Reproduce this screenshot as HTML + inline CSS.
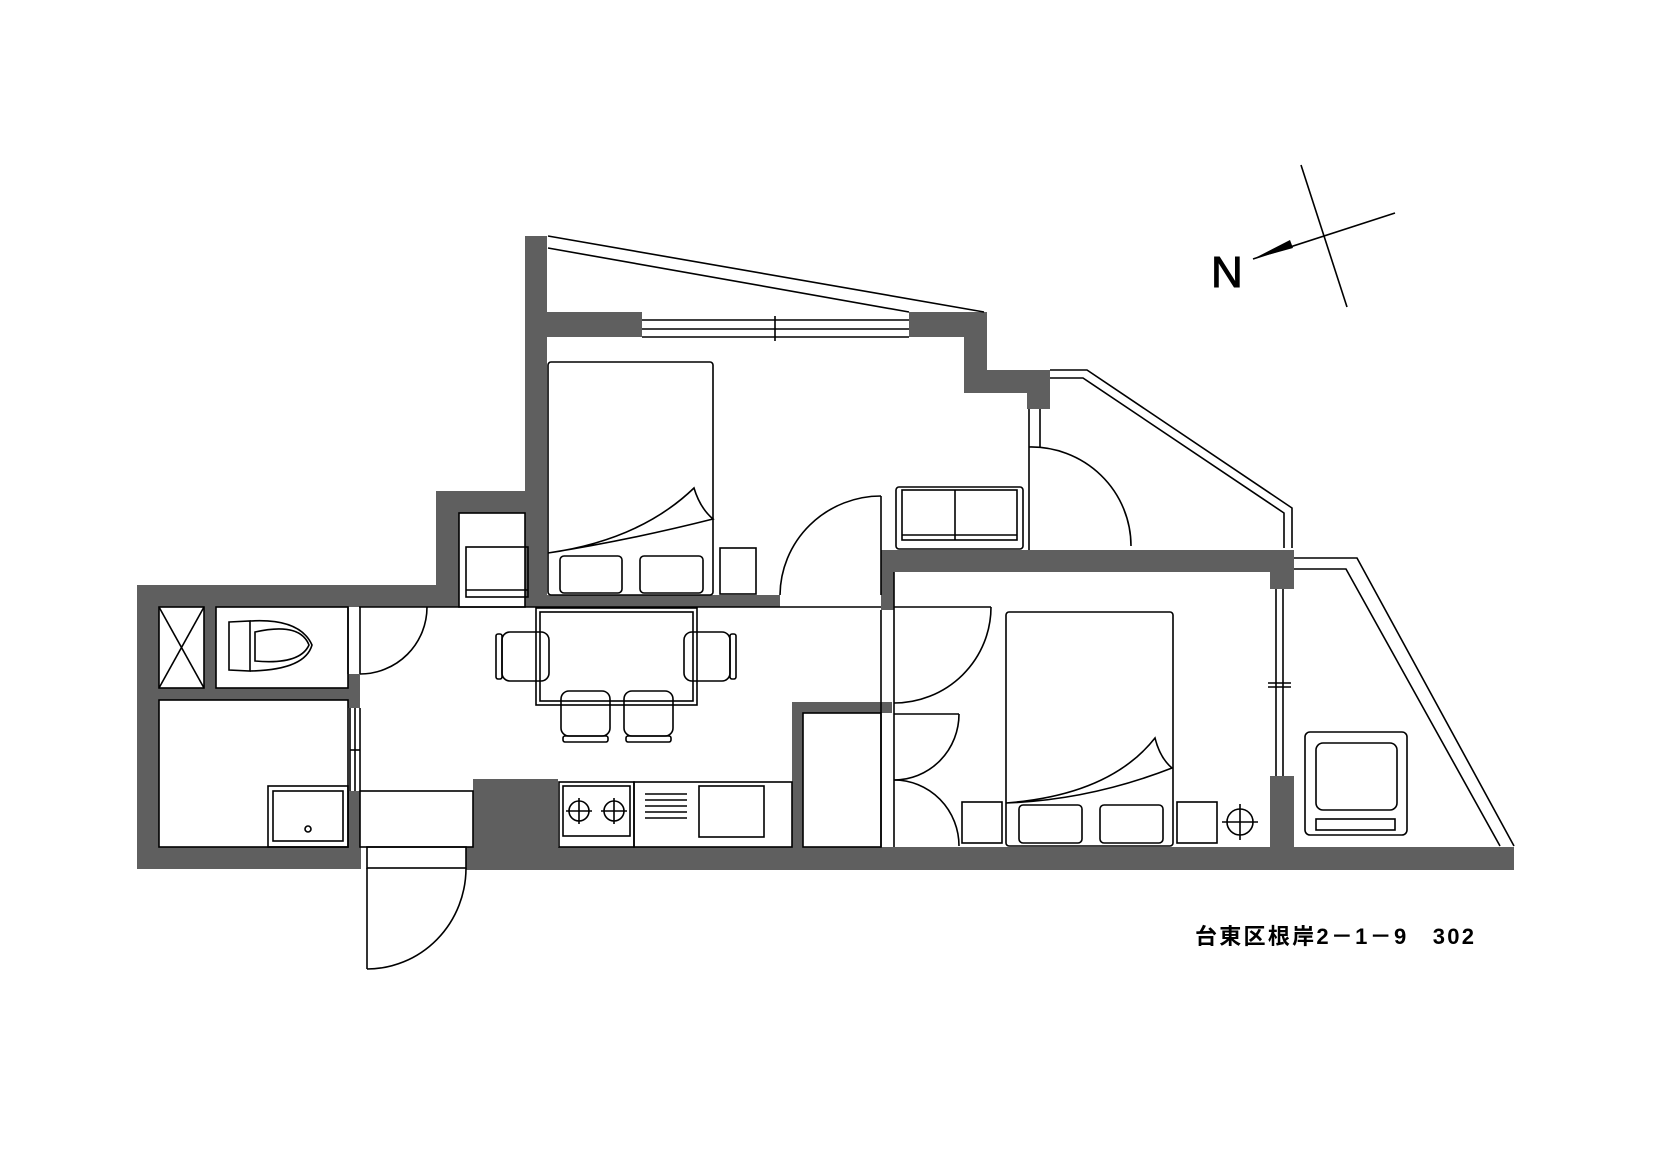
<!DOCTYPE html>
<html><head><meta charset="utf-8"><style>html,body{margin:0;padding:0;background:#fff}svg{display:block}</style></head>
<body>
<svg width="1654" height="1170" viewBox="0 0 1654 1170" xmlns="http://www.w3.org/2000/svg">
<g fill="#5f5f5f" stroke="none">
<rect x="137" y="585" width="22" height="284"/>
<rect x="137" y="847" width="224" height="22"/>
<rect x="466" y="847" width="1048" height="23"/>
<rect x="137" y="585" width="299" height="22"/>
<rect x="436" y="491" width="23" height="116"/>
<rect x="436" y="491" width="111" height="22"/>
<rect x="525" y="236" width="22" height="371"/>
<rect x="547" y="312" width="95" height="25"/>
<rect x="909" y="312" width="78" height="25"/>
<rect x="964" y="312" width="23" height="81"/>
<rect x="964" y="370" width="86" height="23"/>
<rect x="1027" y="370" width="23" height="39"/>
<rect x="547" y="595" width="233" height="12"/>
<rect x="204" y="607" width="12" height="82"/>
<rect x="159" y="688" width="201" height="12"/>
<rect x="348" y="674" width="12" height="34"/>
<rect x="348" y="791" width="12" height="56"/>
<rect x="473" y="779" width="85" height="68"/>
<rect x="884" y="550" width="410" height="22"/>
<rect x="881" y="550" width="13" height="60"/>
<rect x="792" y="702" width="11" height="145"/>
<rect x="792" y="702" width="100" height="11"/>
<rect x="1270" y="550" width="24" height="39"/>
<rect x="1270" y="776" width="24" height="71"/>
</g>
<g fill="none" stroke="#000" stroke-width="1.6">
<polyline points="548,236 984,312"/>
<polyline points="548,248 909,312"/>
<polyline points="1050,370 1087,370 1292,508 1292,548"/>
<polyline points="1050,378 1083,378 1284,513 1284,548"/>
<polyline points="1294,558 1357,558 1514,846"/>
<polyline points="1294,569 1346,569 1500,846"/>
<line x1="642" y1="320" x2="909" y2="320"/><line x1="642" y1="329" x2="909" y2="329"/><line x1="642" y1="337" x2="909" y2="337"/>
<line x1="775" y1="316" x2="775" y2="341"/>
<line x1="1029" y1="409" x2="1029" y2="550"/><line x1="1040" y1="409" x2="1040" y2="447"/>
<path d="M1029,447 A100,99 0 0 1 1131,546"/>
<rect x="459" y="513" width="66" height="94"/>
<rect x="466" y="547" width="62" height="50"/><line x1="466" y1="590" x2="528" y2="590"/>
<rect x="548" y="362" width="165" height="233" rx="3"/>
<rect x="560" y="556" width="62" height="37" rx="4"/><rect x="640" y="556" width="63" height="37" rx="4"/>
<rect x="720" y="548" width="36" height="46"/>
<path d="M548,553 Q640,540 694,488 Q700,508 713,519 Q630,540 548,553"/>
<line x1="881" y1="496" x2="881" y2="595"/>
<path d="M881,496 A101,100 0 0 0 780,595"/>
<line x1="359" y1="607" x2="881" y2="607"/>
<rect x="896" y="487" width="127" height="62" rx="3"/>
<rect x="902" y="490" width="115" height="50"/>
<line x1="955" y1="490" x2="955" y2="540"/><line x1="902" y1="535" x2="1017" y2="535"/>
<line x1="881" y1="610" x2="881" y2="847"/><line x1="894" y1="572" x2="894" y2="847"/>
<rect x="803" y="713" width="78" height="134"/>
<line x1="894" y1="607" x2="991" y2="607"/>
<path d="M991,607 A97,96 0 0 1 894,703"/>
<line x1="894" y1="714" x2="959" y2="714"/>
<path d="M959,714 A65,66 0 0 1 894,780"/>
<path d="M894,780 A65,66 0 0 1 959,846"/>
<rect x="1006" y="612" width="167" height="234" rx="3"/>
<rect x="1019" y="805" width="63" height="38" rx="4"/><rect x="1100" y="805" width="63" height="38" rx="4"/>
<rect x="962" y="802" width="40" height="41"/><rect x="1177" y="802" width="40" height="41"/>
<path d="M1006,803 Q1110,795 1155,738 Q1160,758 1172,768 Q1090,800 1006,803"/>
<circle cx="1240" cy="822" r="13"/><line x1="1222" y1="822" x2="1258" y2="822"/><line x1="1240" y1="804" x2="1240" y2="840"/>
<line x1="1276" y1="589" x2="1276" y2="776"/><line x1="1283" y1="589" x2="1283" y2="776"/>
<line x1="1268" y1="683" x2="1291" y2="683"/><line x1="1268" y1="687" x2="1291" y2="687"/>
<rect x="1305" y="732" width="102" height="103" rx="5"/>
<rect x="1316" y="743" width="81" height="67" rx="7"/>
<rect x="1316" y="819" width="79" height="11"/>
<rect x="159" y="607" width="45" height="81"/>
<line x1="159" y1="607" x2="204" y2="688"/><line x1="204" y1="607" x2="159" y2="688"/>
<rect x="216" y="607" width="132" height="81"/>
<path d="M229,622 L250,621 L250,671 L229,670 Z"/>
<path d="M250,621 Q300,618 312,645 Q305,670 250,671"/>
<path d="M255,632 Q300,622 309,645 Q300,665 255,661 Z"/>
<line x1="348" y1="607" x2="348" y2="674"/><line x1="360" y1="607" x2="360" y2="674"/>
<path d="M427,607 A67,67 0 0 1 360,674"/>
<rect x="159" y="700" width="189" height="147"/>
<line x1="350" y1="708" x2="350" y2="791"/><line x1="355" y1="708" x2="355" y2="791"/><line x1="360" y1="708" x2="360" y2="791"/>
<line x1="350" y1="750" x2="360" y2="750"/>
<rect x="268" y="786" width="80" height="61"/><rect x="273" y="791" width="70" height="50"/>
<circle cx="308" cy="829" r="3"/>
<rect x="360" y="791" width="113" height="56"/>
<rect x="367" y="847" width="99" height="21"/>
<line x1="367" y1="868" x2="367" y2="969"/>
<path d="M466,868 A99,101 0 0 1 367,969"/>
<rect x="536" y="608" width="161" height="97"/><rect x="540" y="612" width="153" height="89"/>
<rect x="502" y="632" width="47" height="49" rx="8"/><rect x="496" y="634" width="6" height="45" rx="2"/>
<rect x="684" y="632" width="46" height="49" rx="8"/><rect x="730" y="634" width="6" height="45" rx="2"/>
<rect x="561" y="691" width="49" height="45" rx="8"/><rect x="563" y="736" width="45" height="6" rx="2"/>
<rect x="624" y="691" width="49" height="45" rx="8"/><rect x="626" y="736" width="45" height="6" rx="2"/>
<rect x="559" y="782" width="75" height="65"/><rect x="563" y="786" width="67" height="50"/>
<circle cx="579" cy="811" r="10"/><line x1="566" y1="811" x2="592" y2="811"/><line x1="579" y1="798" x2="579" y2="824"/>
<circle cx="614" cy="811" r="10"/><line x1="601" y1="811" x2="627" y2="811"/><line x1="614" y1="798" x2="614" y2="824"/>
<rect x="634" y="782" width="158" height="65"/>
<line x1="645" y1="794" x2="687" y2="794"/><line x1="645" y1="800" x2="687" y2="800"/><line x1="645" y1="806" x2="687" y2="806"/><line x1="645" y1="812" x2="687" y2="812"/><line x1="645" y1="818" x2="687" y2="818"/>
<rect x="699" y="786" width="65" height="51"/>
<line x1="1301" y1="165" x2="1347" y2="307"/>
<line x1="1395" y1="213" x2="1253" y2="259"/>
</g>
<polygon points="1253,259 1290,240 1293,248" fill="#000"/>
<text x="1211" y="287" font-family="Liberation Sans, sans-serif" font-size="44" fill="#000" stroke="#000" stroke-width="1">N</text>
<text x="1195" y="944" textLength="279" lengthAdjust="spacing" font-family="Liberation Sans, 'Noto Sans CJK JP', sans-serif" font-size="22" font-weight="bold" fill="#000">台東区根岸2－1－9　302</text>
</svg>
</body></html>
